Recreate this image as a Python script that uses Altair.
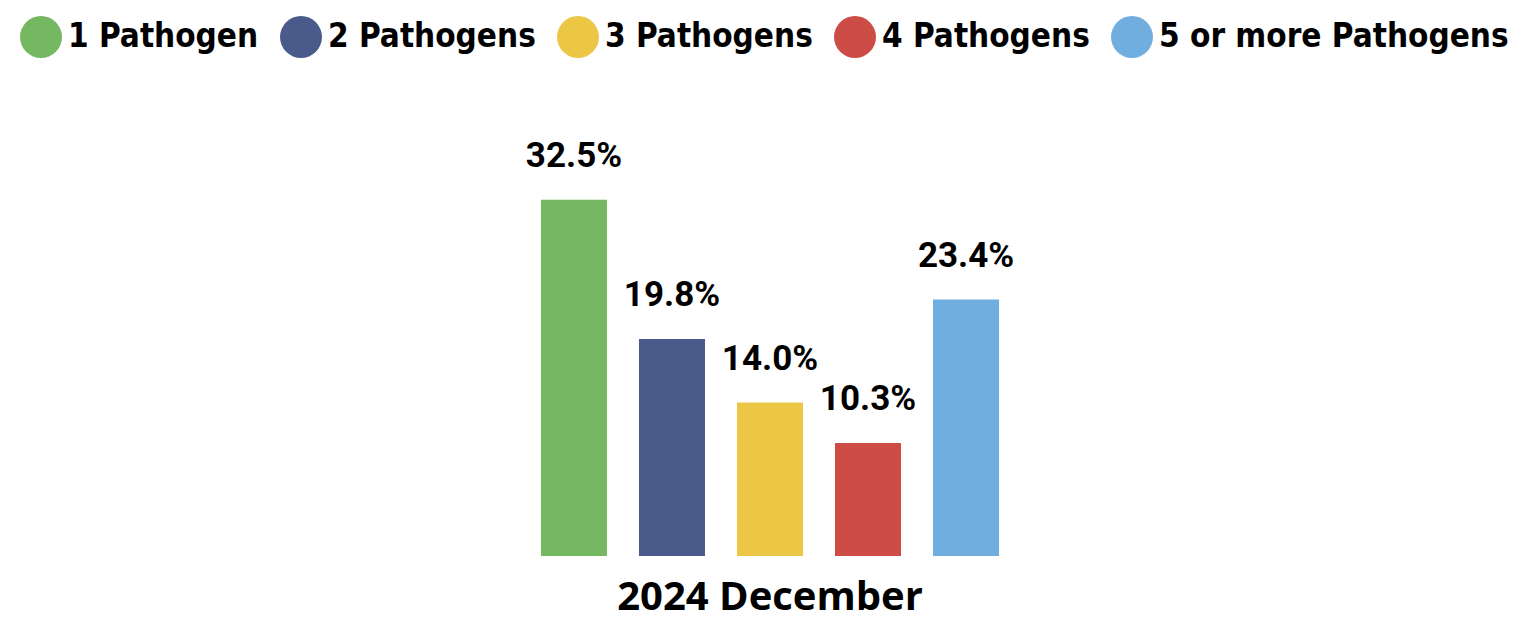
import altair as alt
import pandas as pd

categories = ["1 Pathogen", "2 Pathogens", "3 Pathogens", "4 Pathogens", "5 or more Pathogens"]
values = [32.5, 19.8, 14.0, 10.3, 23.4]
period = ["2024 December"] * 5
colors = ["#74B962", "#4A5A8A", "#ECC745", "#CD4C46", "#71AEE0"]

df = pd.DataFrame({
    "period": period,
    "category": categories,
    "value": values,
    "label": [f"{v:.1f}%" for v in values],
})

base = alt.Chart(df).encode(
    x=alt.X(
        "period:N",
        scale=alt.Scale(paddingInner=0, paddingOuter=0, range=[517, 1007]),
        axis=alt.Axis(
            title=None, domain=False, ticks=False, labelAngle=0,
            labelFont="Open Sans", labelFontWeight="bold", labelFontSize=40,
            labelColor="#000000", labelBaseline="alphabetic", labelPadding=53,
            labelLimit=0,
        ),
    ),
    xOffset=alt.XOffset(
        "category:N", sort=categories,
        scale=alt.Scale(paddingInner=0.3265, paddingOuter=0.163),
    ),
    y=alt.Y("value:Q", scale=alt.Scale(domain=[0, 50]), axis=None),
)

bars = base.mark_bar().encode(
    color=alt.Color(
        "category:N", sort=categories,
        scale=alt.Scale(domain=categories, range=colors),
        legend=alt.Legend(
            title=None, orient="none", legendX=12, legendY=8,
            direction="horizontal", columns=5,
            symbolType="circle", symbolSize=1764, symbolStrokeWidth=0,
            symbolOpacity=1,
            labelFont="DejaVu Sans Condensed", labelFontWeight="bold",
            labelFontSize=33, labelColor="#000000", labelOffset=6,
            labelLimit=0, columnPadding=21, padding=0,
        ),
    )
)

text = base.mark_text(
    font="Roboto", fontWeight="bold", fontSize=35,
    baseline="alphabetic", dy=-33, color="#000000",
).encode(text="label:N")

chart = (bars + text).properties(
    width=1500, height=548,
    padding={"left": 0, "top": 0, "right": 0, "bottom": 64},
    autosize="none",
).configure_view(stroke=None)

chart.save("out.html", embed_options={"renderer": "svg", "actions": False})
